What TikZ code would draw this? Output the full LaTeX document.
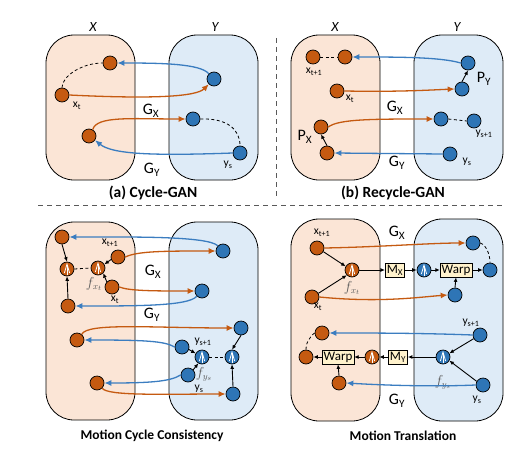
\documentclass[tikz,border=0pt]{standalone}
\usepackage{fontspec}
\setmainfont{Carlito}
\usetikzlibrary{arrows.meta}
\definecolor{nodeor}{HTML}{C55A11}
\definecolor{nodebl}{HTML}{2E75B6}
\definecolor{boxor}{HTML}{FBE5D6}
\definecolor{boxbl}{HTML}{DEEBF7}
\definecolor{arror}{HTML}{C55A11}
\definecolor{arrbl}{HTML}{3B7DC0}
\definecolor{mboxc}{HTML}{FFF2CC}
\tikzset{
  setbox/.style={draw=black, line width=0.8pt, rounded corners=28pt, inner sep=0pt},
  setX/.style={setbox, fill=boxor},
  setY/.style={setbox, fill=boxbl},
  dot/.style={circle, draw=black, line width=0.7pt, minimum size=14pt, inner sep=0pt},
  od/.style={dot, fill=nodeor},
  bd/.style={dot, fill=nodebl},
  flowicon/.style={path picture={
    \draw[white, line width=0.8pt, line join=miter]
      ([xshift=-2.6pt,yshift=-4pt]path picture bounding box.center) --
      ([yshift=5pt]path picture bounding box.center) --
      ([xshift=2.6pt,yshift=-4pt]path picture bounding box.center);
    \draw[white, line width=0.9pt]
      ([yshift=-5.5pt]path picture bounding box.center) -- ([yshift=4.5pt]path picture bounding box.center);
  }},
  of/.style={od, flowicon},
  bf/.style={bd, flowicon},
  mbox/.style={draw=black, line width=0.7pt, fill=mboxc, inner xsep=1.5pt, inner ysep=0.5pt, minimum height=14pt, font=\fontsize{13}{13}\selectfont},
  oarr/.style={draw=arror, line width=1.3pt, -{Latex[length=7pt,width=6pt]}},
  barr/.style={draw=arrbl, line width=1.3pt, -{Latex[length=7pt,width=6pt]}},
  karr/.style={draw=black, line width=0.9pt, -{Latex[length=4.5pt,width=4pt]}},
  dsh/.style={draw=black, line width=0.8pt, dash pattern=on 3pt off 2.5pt},
  sep/.style={draw=black!65, line width=0.9pt, dash pattern=on 5pt off 4pt},
  lbl/.style={inner sep=0pt, font=\fontsize{11.5}{11.5}\selectfont},
  glbl/.style={inner sep=0pt, font=\fontsize{16}{16}\selectfont},
  setlbl/.style={inner sep=0pt, font=\fontsize{14}{14}\selectfont\itshape},
  flbl/.style={inner sep=0pt, text=black!65, font=\fontsize{13.5}{13.5}\selectfont},
  capbig/.style={inner sep=0pt, font=\fontsize{15.5}{15.5}\selectfont\bfseries},
  capsmall/.style={inner sep=0pt, font=\fontsize{13.5}{13.5}\selectfont\bfseries}
}
\begin{document}
\begin{tikzpicture}[x=1pt,y=-1pt]
\useasboundingbox (0,0) rectangle (529,452);
% separators
\coordinate (vs1) at (276,38); \coordinate (vs2) at (276,196);
\coordinate (hs1) at (38,205); \coordinate (hs2) at (505,205);
\draw[sep] (vs1) -- (vs2);
\draw[sep] (hs1) -- (hs2);

% ================= (a) =================
\node[setX, minimum width=89pt, minimum height=145pt] (aX) at (90.5,107.5) {};
\node[setY, minimum width=89pt, minimum height=145pt] (aY) at (213.5,107.5) {};
\node[setlbl] (aXl) at (93,27) {X};
\node[setlbl] (aYl) at (215,27) {Y};
\node[od] (a1) at (110,63) {};
\node[od] (a2) at (62,95) {};
\node[od] (a3) at (89,136) {};
\node[bd] (a4) at (214,79) {};
\node[bd] (a5) at (193,119) {};
\node[bd] (a6) at (240,153) {};
\node[lbl] (a2l) at (77,106) {x\textsubscript{t}};
\node[lbl] (a6l) at (228,165) {y\textsubscript{s}};
\node[glbl] (aGX) at (151,111) {G\textsubscript{X}};
\node[glbl] (aGY) at (152,170) {G\textsubscript{Y}};
\node[capbig] (acap) at (153,193) {(a) Cycle-GAN};
\draw[barr] (a4.135) .. controls +(-8,-10) and +(45,0) .. (a1.east);
\draw[oarr] (a2.east) .. controls (150,99) and (196,97) .. (a4.225);
\draw[dsh] (a2.north) .. controls (62,76) and (82,63) .. (a1.west);
\draw[oarr] (a3.60) .. controls +(4,-14) and +(-55,0) .. (a5.west);
\draw[barr] (a6.west) .. controls (150,156) and (112,154) .. (a3.-35);
\draw[dsh] (a5.east) .. controls (228,118) and (240,130) .. (a6.north);

% ================= (b) =================
\node[setX, minimum width=89pt, minimum height=145pt] (bX) at (335.5,107.5) {};
\node[setY, minimum width=89pt, minimum height=145pt] (bY) at (458.5,107.5) {};
\node[setlbl] (bXl) at (335,27) {X};
\node[setlbl] (bYl) at (457,27) {Y};
\node[od] (b1) at (313,57) {};
\node[od] (b2) at (345,57) {};
\node[od] (b3) at (337,91) {};
\node[od] (b4) at (321,127) {};
\node[od] (b5) at (327,153) {};
\node[bd] (b6) at (468,63) {};
\node[bd] (b7) at (462,89) {};
\node[bd] (b8) at (441,119) {};
\node[bd] (b9) at (474,121) {};
\node[bd] (b10) at (450,154) {};
\node[lbl] (b1l) at (314,72) {x\textsubscript{t+1}};
\node[lbl] (b3l) at (350,99) {x\textsubscript{t}};
\node[glbl] (b4l) at (305,137) {P\textsubscript{X}};
\node[glbl] (b6l) at (484,79) {P\textsubscript{Y}};
\node[lbl] (b9l) at (484,134) {y\textsubscript{s+1}};
\node[lbl] (b10l) at (467,162) {y\textsubscript{s}};
\node[glbl] (bGX) at (395,108) {G\textsubscript{X}};
\node[glbl] (bGY) at (397,163) {G\textsubscript{Y}};
\node[capbig] (bcap) at (393,193) {(b) Recycle-GAN};
\draw[dsh] (b1.east) -- (b2.west);
\draw[dsh] (b8.east) -- (b9.west);
\draw[barr] (b6.west) .. controls +(-20,-6) and +(45,0) .. (b2.east);
\draw[oarr] (b3.east) .. controls (400,92) and (430,90) .. (b7.west);
\draw[oarr] (b4.east) .. controls +(10,-8) and +(-60,0) .. (b8.west);
\draw[barr] (b10.west) -- (b5.east);
\draw[karr] (b5.north) -- (b4.south);
\draw[karr] (b7.north) -- (b6.south);

% ================= (c) =================
\node[setX, minimum width=89pt, minimum height=198pt] (cX) at (90.5,321) {};
\node[setY, minimum width=89pt, minimum height=198pt] (cY) at (213.5,321) {};
\node[od] (cA) at (62,237) {};
\node[of] (cF1) at (67,269) {};
\node[of] (cF2) at (98,268) {};
\node[od] (cX1) at (118,257) {};
\node[od] (cX0) at (112,287) {};
\node[od] (cB) at (68,306) {};
\node[od] (cC) at (77,340) {};
\node[od] (cD) at (97,383) {};
\node[bd] (cE) at (223,251) {};
\node[bd] (cF) at (202,291) {};
\node[bd] (cG) at (241,328) {};
\node[bd] (cY1) at (182,347) {};
\node[bf] (cFy1) at (202,357) {};
\node[bf] (cFy2) at (232,357) {};
\node[bd] (cY0) at (188,375) {};
\node[bd] (cH) at (233,394) {};
\node[lbl] (cX1l) at (110,243) {x\textsubscript{t+1}};
\node[lbl] (cX0l) at (115,300) {x\textsubscript{t}};
\node[flbl] (cF2l) at (94,284) {$f_{x_t}$};
\node[lbl] (cY1l) at (203,342) {y\textsubscript{s+1}};
\node[lbl] (cY0l) at (199,389) {y\textsubscript{s}};
\node[flbl] (cFy1l) at (204,374) {$f_{y_s}$};
\node[glbl] (cGX) at (153,272) {G\textsubscript{X}};
\node[glbl] (cGY) at (152,315) {G\textsubscript{Y}};
\node[capsmall] (ccap) at (152,436) {Motion Cycle Consistency};
\draw[barr] (cE.135) .. controls +(-10,-10) and +(60,0) .. (cA.east);
\draw[oarr] (cX1.east) .. controls +(12,-6) and +(-50,0) .. (cE.west);
\draw[oarr] (cX0.east) .. controls +(10,4) and +(-40,0) .. (cF.west);
\draw[barr] (cF.225) .. controls +(-8,10) and +(60,0) .. (cB.east);
\draw[karr] (cA.south) -- (cF1.north);
\draw[karr] (cB.north) -- (cF1.south);
\draw[dsh] (cF1.east) -- (cF2.west);
\draw[karr] (cX1.200) -- (cF2.30);
\draw[karr] (cX0.135) -- (cF2.-45);
\draw[oarr] (cC.50) .. controls +(5,-12) and +(-80,0) .. (cG.west);
\draw[barr] (cY1.west) .. controls +(-10,-6) and +(60,0) .. (cC.east);
\draw[barr] (cY0.west) .. controls +(-10,6) and +(50,0) .. (cD.east);
\draw[oarr] (cD.-45) .. controls +(5,8) and +(-60,0) .. (cH.west);
\draw[karr] (cG.south) -- (cFy2.north);
\draw[karr] (cH.north) -- (cFy2.south);
\draw[dsh] (cFy1.east) -- (cFy2.west);
\draw[karr] (cY1.-20) -- (cFy1.150);
\draw[karr] (cY0.45) -- (cFy1.-120);

% ================= (d) =================
\node[setX, minimum width=89pt, minimum height=202pt] (dXb) at (335.5,320) {};
\node[setY, minimum width=89pt, minimum height=202pt] (dYb) at (458.5,320) {};
\node[od] (dX1) at (317,248) {};
\node[of] (dF) at (352,270) {};
\node[od] (dX0) at (312,297) {};
\node[mbox] (dM) at (395,270) {M\textsubscript{X}};
\node[bf] (dFb) at (424,270) {};
\node[mbox] (dW) at (456,270) {Warp};
\node[bd] (dR) at (490,270) {};
\node[bd] (dT) at (473,243) {};
\node[bd] (dU) at (455,295) {};
\node[od] (dO1) at (322,333) {};
\node[od] (dL) at (306,357) {};
\node[mbox] (dW2) at (338,357) {Warp};
\node[of] (dF2) at (372,357) {};
\node[mbox] (dM2) at (398,357) {M\textsubscript{Y}};
\node[bf] (dFb2) at (443,357) {};
\node[bd] (dY1) at (480,335) {};
\node[bd] (dY0) at (483,385) {};
\node[od] (dB) at (339,383) {};
\node[lbl] (dX1l) at (322,233) {x\textsubscript{t+1}};
\node[lbl] (dX0l) at (318,307) {x\textsubscript{t}};
\node[flbl] (dFl) at (352,288) {$f_{x_t}$};
\node[lbl] (dY1l) at (471,323) {y\textsubscript{s+1}};
\node[lbl] (dY0l) at (477,400) {y\textsubscript{s}};
\node[flbl] (dFb2l) at (443,382) {$f_{y_s}$};
\node[glbl] (dGX) at (397,233) {G\textsubscript{X}};
\node[glbl] (dGY) at (397,401) {G\textsubscript{Y}};
\node[capsmall] (dcap) at (403,436) {Motion Translation};
\draw[oarr] (dX1.east) .. controls (380,247) and (430,243) .. (dT.west);
\draw[karr] (dX1.-30) -- (dF.150);
\draw[karr] (dX0.30) -- (dF.-135);
\draw[karr] (dF.east) -- (dM.west);
\draw[karr] (dM.east) -- (dFb.west);
\draw[karr] (dFb.east) -- (dW.west);
\draw[karr] (dW.east) -- (dR.west);
\draw[karr] (dU.north) -- (dW.south);
\draw[dsh] (dT.east) .. controls (486,245) and (490,254) .. (dR.north);
\draw[oarr] (dX0.east) .. controls (380,303) and (420,297) .. (dU.west);
\draw[barr] (dY1.west) .. controls (420,333) and (370,333) .. (dO1.east);
\draw[karr] (dY1.210) -- (dFb2.30);
\draw[karr] (dY0.150) -- (dFb2.-30);
\draw[karr] (dFb2.west) -- (dM2.east);
\draw[karr] (dM2.west) -- (dF2.east);
\draw[karr] (dF2.west) -- (dW2.east);
\draw[karr] (dW2.west) -- (dL.east);
\draw[karr] (dB.north) -- (dW2.south);
\draw[dsh] (dO1.west) .. controls (310,336) and (305,345) .. (dL.north);
\draw[barr] (dY0.west) .. controls (430,387) and (380,385) .. (dB.east);
\end{tikzpicture}
\end{document}
